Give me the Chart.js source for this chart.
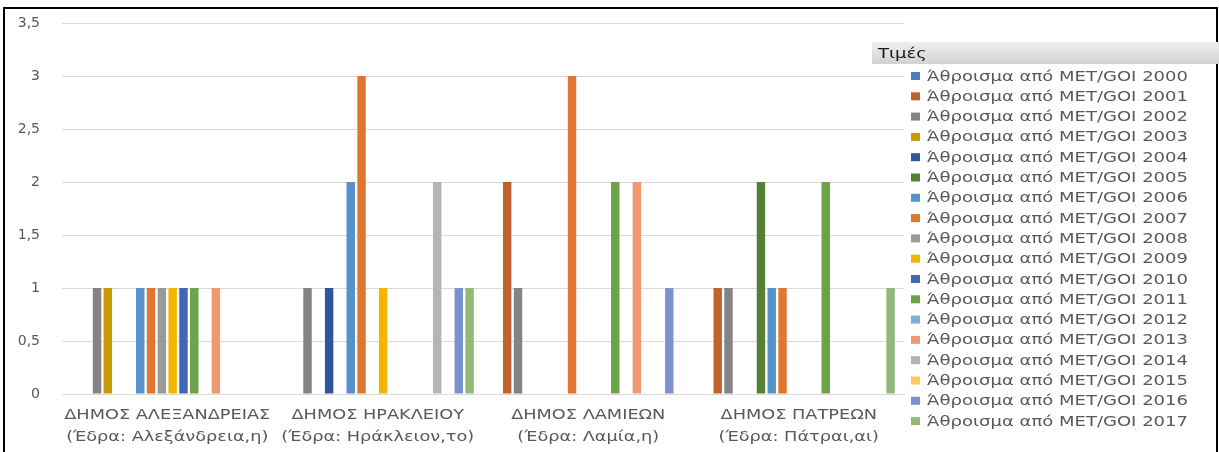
<!DOCTYPE html>
<html>
<head>
<meta charset="utf-8">
<script src="https://cdn.jsdelivr.net/npm/chart.js@4.4.1/dist/chart.umd.min.js"></script>
<style>
  html, body { margin: 0; padding: 0; background: #fff; overflow: hidden; }
  #frame { position: absolute; left: 3px; top: 7px; width: 1211px; height: 460px; border: 2px solid #000; }
  #wrap { position: absolute; left: 0; top: 0; width: 1219px; height: 452px; }
</style>
</head>
<body>
<div id="frame"></div>
<div id="wrap"><canvas id="met_goi_chart" width="1219" height="452"></canvas></div>
<script>
// Δήμοι (κατηγορίες του άξονα x)
const dimoi = [
    ['ΔΗΜΟΣ ΑΛΕΞΑΝΔΡΕΙΑΣ', '(Έδρα: Αλεξάνδρεια,η)'],
    ['ΔΗΜΟΣ ΗΡΑΚΛΕΙΟΥ', '(Έδρα: Ηράκλειον,το)'],
    ['ΔΗΜΟΣ ΛΑΜΙΕΩΝ', '(Έδρα: Λαμία,η)'],
    ['ΔΗΜΟΣ ΠΑΤΡΕΩΝ', '(Έδρα: Πάτραι,αι)']
];

// Άθροισμα MET/GOI ανά έτος, με τη σειρά των δήμων
const met_2000 = [null, null, null, null];
const met_2001 = [null, null, 2, 1];
const met_2002 = [1, 1, 1, 1];
const met_2003 = [1, null, null, null];
const met_2004 = [null, 1, null, null];
const met_2005 = [null, null, null, 2];
const met_2006 = [1, 2, null, 1];
const met_2007 = [1, 3, 3, 1];
const met_2008 = [1, null, null, null];
const met_2009 = [1, 1, null, null];
const met_2010 = [1, null, null, null];
const met_2011 = [1, null, 2, 2];
const met_2012 = [null, null, null, null];
const met_2013 = [1, null, 2, null];
const met_2014 = [null, 2, null, null];
const met_2015 = [null, null, null, null];
const met_2016 = [null, 1, 1, null];
const met_2017 = [null, 1, null, 1];

const years = ['2000', '2001', '2002', '2003', '2004', '2005', '2006', '2007', '2008',
               '2009', '2010', '2011', '2012', '2013', '2014', '2015', '2016', '2017'];
const values = [met_2000, met_2001, met_2002, met_2003, met_2004, met_2005, met_2006, met_2007, met_2008,
                met_2009, met_2010, met_2011, met_2012, met_2013, met_2014, met_2015, met_2016, met_2017];

const colors = [
    '#4a7fbf', '#c0622b', '#848484', '#c99a06', '#2f559a', '#548235',
    '#5592cc', '#e0762f', '#9a9a9a', '#f2b600', '#4068b6', '#6aa446',
    '#80afdc', '#f09870', '#b4b4b4', '#ffc960', '#7a92cd', '#90ba78'
];

const y_ticks = [0, 0.5, 1, 1.5, 2, 2.5, 3, 3.5];

const font_family = '"DejaVu Sans", Verdana, sans-serif';
const text_gray = '#595959';

// κείμενο ελαφρώς απλωμένο οριζόντια (όπως στο αρχικό φύλλο)
function wide_text(ctx, text, x, y, sx, align) {
    const w = ctx.measureText(text).width * sx;
    const left = align === 'center' ? x - w / 2 : x;
    ctx.save();
    ctx.translate(left, y);
    ctx.scale(sx, 1);
    ctx.textAlign = 'left';
    ctx.fillText(text, 0, 0);
    ctx.restore();
}

// Ετικέτες δήμων κάτω από τον άξονα x, δύο γραμμές η καθεμία
const dimoi_labels = {
    id: 'dimoi_labels',
    afterDraw(chart) {
        const ctx = chart.ctx;
        const xs = chart.scales.x;
        ctx.save();
        ctx.font = '13.5px ' + font_family;
        ctx.fillStyle = text_gray;
        ctx.textBaseline = 'middle';
        const sx = 206 / ctx.measureText(dimoi[0][0]).width;
        chart.data.labels.forEach((lines, i) => {
            const cx = xs.getPixelForValue(i);
            lines.forEach((line, j) => {
                wide_text(ctx, line, cx, xs.top + 21 + j * 22, sx, 'center');
            });
        });
        ctx.restore();
    }
};

// Υπόμνημα στα δεξιά, με γκρι κεφαλίδα "Τιμές"
const side_legend = {
    id: 'side_legend',
    afterDraw(chart) {
        const ctx = chart.ctx;
        ctx.save();
        const grad = ctx.createLinearGradient(0, 42, 0, 64);
        grad.addColorStop(0, '#efefef');
        grad.addColorStop(1, '#d2d2d2');
        ctx.fillStyle = grad;
        ctx.fillRect(872, 42, 347, 22);

        ctx.font = '13.5px ' + font_family;
        ctx.textBaseline = 'middle';
        const sx = 261 / ctx.measureText(chart.data.datasets[0].label).width;
        ctx.fillStyle = '#1a1a1a';
        wide_text(ctx, 'Τιμές', 878, 54, sx, 'left');

        chart.data.datasets.forEach((ds, i) => {
            const y = 76 + i * 20.3;
            ctx.fillStyle = ds.backgroundColor;
            ctx.fillRect(911, y - 4, 9, 8);
            ctx.fillStyle = text_gray;
            wide_text(ctx, ds.label, 927, y + 1, sx, 'left');
        });
        ctx.restore();
    }
};

const met_goi_chart = document.getElementById('met_goi_chart');
new Chart(met_goi_chart, {
    type: 'bar',
    data: {
        labels: dimoi,
        datasets: years.map((yr, i) => ({
            label: 'Άθροισμα από MET/GOI ' + yr,
            data: values[i],
            backgroundColor: colors[i],
            borderWidth: 0
        }))
    },
    options: {
        responsive: false,
        animation: false,
        categoryPercentage: 0.924,
        barPercentage: 0.78,
        layout: {
            padding: { top: 23, right: 315, left: 0, bottom: 0 }
        },
        scales: {
            y: {
                min: 0,
                max: 3.5,
                afterFit(scale) {
                    scale.width = 62;
                    scale.paddingTop = 8;
                    scale.paddingBottom = 8;
                },
                afterBuildTicks(scale) { scale.ticks = y_ticks.map(v => ({ value: v })); },
                border: { display: false },
                grid: { color: '#d9d9d9', lineWidth: 1, drawTicks: false, tickLength: 0 },
                ticks: {
                    padding: 22,
                    color: text_gray,
                    font: { size: 14, family: font_family },
                    callback: v => String(v).replace('.', ',')
                }
            },
            x: {
                afterFit(scale) { scale.height = 58; },
                border: { display: true, color: '#d9d9d9' },
                grid: { display: false, drawTicks: false },
                ticks: { display: false }
            }
        },
        plugins: {
            legend: { display: false },
            tooltip: { enabled: false }
        }
    },
    plugins: [dimoi_labels, side_legend]
});
</script>
</body>
</html>
